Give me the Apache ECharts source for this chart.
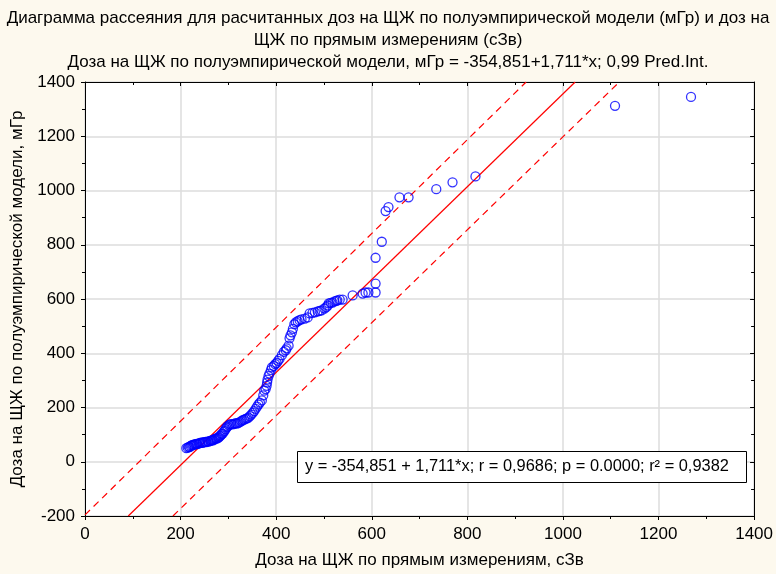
<!DOCTYPE html>
<html>
<head>
<meta charset="utf-8">
<script src="https://cdn.jsdelivr.net/npm/echarts@6/dist/echarts.min.js"></script>
<style>
  html, body { margin: 0; padding: 0; background: #fdf9ee; }
  #chart { width: 776px; height: 574px; }
</style>
</head>
<body>
<div id="chart"></div>
<script>
// Measured thyroid dose (cSv) vs. semi-empirical model dose (mGy)
const doseMeasured = [
  212, 215, 217, 219, 221, 223, 225, 227, 229, 231, 233, 235, 238, 240, 242, 245,
  247, 250, 252, 254, 257, 259, 262, 264, 266, 268, 270, 272, 274, 276, 278, 280,
  282, 284, 286, 288, 290, 292, 294, 296, 298, 301, 303, 306, 309, 312, 315, 318,
  321, 324, 327, 330, 333, 336, 339, 342, 345, 348, 351, 354, 357, 360, 363, 366,
  370, 373, 375, 378, 380, 381, 382, 384, 386, 389, 391, 395, 398, 401, 404, 407,
  412, 416, 420, 422, 426, 428, 430, 433, 435, 438, 441, 445, 449, 453, 460, 466,
  470, 476, 481, 487, 491, 495, 501, 505, 508, 510, 514, 518, 522, 526, 528, 533,
  539, 560, 581, 587, 593, 608, 608, 608, 621, 629, 635, 658, 677, 735, 769, 817,
  1109, 1268
];
const doseModel = [
  50, 52, 55, 54, 58, 60, 62, 61, 64, 65, 66, 65, 68, 69, 70, 70,
  71, 72, 73, 72, 75, 74, 77, 78, 80, 79, 82, 84, 86, 85, 88, 90,
  94, 97, 102, 104, 110, 114, 120, 126, 130, 134, 138, 139, 138, 140, 142, 141,
  143, 146, 150, 153, 155, 158, 160, 163, 168, 174, 180, 187, 195, 203, 211, 218,
  226, 245, 262, 268, 280, 292, 303, 316, 325, 338, 348, 353, 360, 364, 372, 379,
  393, 405, 411, 418, 428, 455, 466, 477, 490, 507, 514, 518, 522, 525, 528, 532,
  547, 549, 551, 554, 556, 558, 565, 570, 576, 584, 586, 587, 591, 593, 595, 598,
  598, 613, 620, 624, 624, 624, 657, 752, 811, 924, 939, 975, 975, 1005, 1030, 1052,
  1312, 1345
];

// Linear fit y = a + b*x
const fitIntercept = -354.851;
const fitSlope = 1.711;

// 0,99 prediction band end points (x, y)
const upperBand = [[0, -196], [923, 1400]];
const lowerBand = [[184, -200], [1118, 1400]];

// Axis ranges and tick step
const xRange = [0, 1400];
const yRange = [-200, 1400];
const tickStep = 200;

const titleMain = 'Диаграмма рассеяния для расчитанных доз на ЩЖ по полуэмпирической модели (мГр) и доз на\nЩЖ по прямым измерениям (сЗв)';
const titleSub = 'Доза на ЩЖ по полуэмпирической модели, мГр = -354,851+1,711*x; 0,99 Pred.Int.';
const xName = 'Доза на ЩЖ по прямым измерениям, сЗв';
const yName = 'Доза на ЩЖ по полуэмпирической модели, мГр';
const statsText = 'y = -354,851 + 1,711*x; r = 0,9686; p = 0.0000; r² = 0,9382';

const FONT = '"Liberation Sans", Arial, sans-serif';

const points = doseMeasured.map((x, i) => [x, doseModel[i]]);
const fitLine = [yRange[0], yRange[1]].map(y => [(y - fitIntercept) / fitSlope, y]);

const chart = echarts.init(document.getElementById('chart'), null, { renderer: 'canvas' });

const plain = v => String(v);

const mirrorAxis = {
  axisLine: { show: true, onZero: false, lineStyle: { color: '#000', width: 1 } },
  splitLine: { show: false },
  minorTick: { show: true, splitNumber: 2, length: 3, lineStyle: { color: '#000' } },
  axisTick: { show: true, inside: true, length: 4, lineStyle: { color: '#000' } },
  axisLabel: { show: false }
};

chart.setOption({
  backgroundColor: '#fdf9ee',
  animation: false,
  textStyle: { fontFamily: FONT },
  title: [
    {
      text: titleMain, left: 'center', top: 2,
      textStyle: { fontFamily: FONT, fontSize: 17, fontWeight: 'normal', color: '#000', lineHeight: 22, align: 'center' }
    },
    {
      text: titleSub, left: 'center', top: 49,
      textStyle: { fontFamily: FONT, fontSize: 17, fontWeight: 'normal', color: '#000' }
    }
  ],
  grid: { left: 85, right: 21, top: 82, bottom: 52, containLabel: false,
          show: true, backgroundColor: '#ffffff', borderWidth: 0 },
  xAxis: [
    {
      type: 'value', min: xRange[0], max: xRange[1], interval: tickStep,
      position: 'bottom',
      name: xName, nameLocation: 'middle', nameGap: 36,
      nameTextStyle: { fontFamily: FONT, fontSize: 17, color: '#000' },
      axisLine: { show: true, onZero: false, lineStyle: { color: '#000', width: 1 } },
      axisTick: { show: true, inside: false, length: 4, lineStyle: { color: '#000' } },
      minorTick: { show: true, splitNumber: 2, length: 3, lineStyle: { color: '#000' } },
      axisLabel: { fontFamily: FONT, fontSize: 17, color: '#000', margin: 10, formatter: plain },
      splitLine: { show: true, lineStyle: { color: '#dcdcdc', width: 1.5 } }
    },
    Object.assign({ type: 'value', min: xRange[0], max: xRange[1], interval: tickStep, position: 'top' }, mirrorAxis)
  ],
  yAxis: [
    {
      type: 'value', min: yRange[0], max: yRange[1], interval: tickStep,
      position: 'left',
      name: yName, nameLocation: 'middle', nameGap: 58,
      nameTextStyle: { fontFamily: FONT, fontSize: 17, color: '#000' },
      axisLine: { show: true, onZero: false, lineStyle: { color: '#000', width: 1 } },
      axisTick: { show: true, inside: false, length: 4, lineStyle: { color: '#000' } },
      minorTick: { show: true, splitNumber: 2, length: 3, lineStyle: { color: '#000' } },
      axisLabel: { fontFamily: FONT, fontSize: 17, color: '#000', margin: 10, formatter: plain },
      splitLine: { show: true, lineStyle: { color: '#dcdcdc', width: 1.5 } }
    },
    Object.assign({ type: 'value', min: yRange[0], max: yRange[1], interval: tickStep, position: 'right' }, mirrorAxis)
  ],
  series: [
    {
      type: 'line', data: fitLine, symbol: 'none', silent: true,
      lineStyle: { color: '#ff0000', width: 1.2 }, z: 2
    },
    {
      type: 'line', data: upperBand, symbol: 'none', silent: true,
      lineStyle: { color: '#ff0000', width: 1.2, type: [7, 5] }, z: 2
    },
    {
      type: 'line', data: lowerBand, symbol: 'none', silent: true,
      lineStyle: { color: '#ff0000', width: 1.2, type: [7, 5] }, z: 2
    },
    {
      type: 'scatter', data: points, symbol: 'circle', symbolSize: 9,
      itemStyle: { color: 'rgba(0,0,0,0)', borderColor: '#0000ff', borderWidth: 1.3 }, z: 3
    }
  ],
  graphic: [
    {
      type: 'rect', left: 297, top: 451, z: 100,
      shape: { width: 449, height: 31 },
      style: { fill: '#ffffff', stroke: '#000000', lineWidth: 1 }
    },
    {
      type: 'text', left: 305, top: 458, z: 101,
      style: { text: statsText, fill: '#000', font: '16.4px ' + FONT }
    }
  ]
});
</script>
</body>
</html>
